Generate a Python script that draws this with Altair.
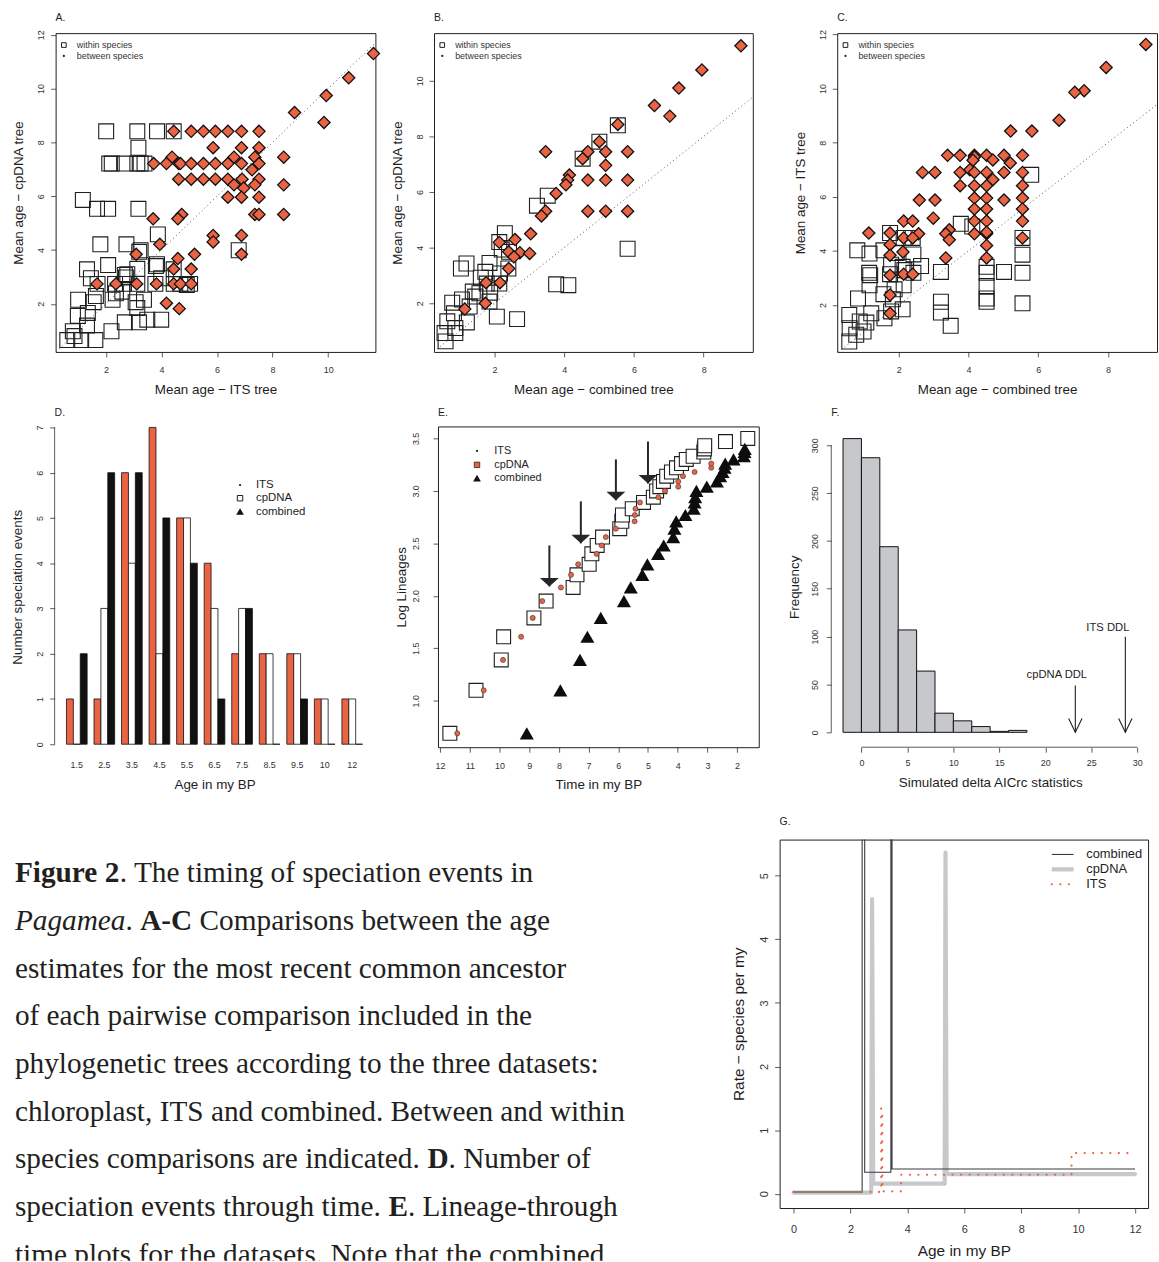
import altair as alt
import pandas as pd

SANS = "Liberation Sans"
SERIF = "Liberation Serif"
ORANGE = "#EA6444"
LIGHT = "#C6C8CB"
INK = "#1E1E1E"
SOFT = "#333333"

# ---------------- A: ITS tree age (x) vs cpDNA tree age (y) ----------------
a_within_x = [2.01, 3.13, 3.84, 4.44, 3.17, 2.12, 2.21, 2.68, 3.13, 3.25, 3.39,
              1.17, 1.68, 2.08, 3.17, 3.87, 1.80, 2.74, 3.25, 3.20, 6.78,
              2.08, 3.84, 3.80, 1.32, 3.13, 4.44, 1.46, 3.99, 2.68, 2.77, 2.72,
              1.70, 2.33, 2.65, 3.13, 3.78, 4.44, 4.68, 4.91, 5.03,
              2.36, 2.59, 1.00, 2.24, 3.37, 1.64, 1.56, 3.07, 3.13,
              1.35, 0.99, 3.49, 3.99, 2.68, 3.19, 1.32, 2.20, 0.81, 0.87,
              0.61, 1.11, 1.62]
a_within_y = [8.41, 8.41, 8.41, 8.41, 7.80, 7.21, 7.21, 7.21, 7.21, 7.21, 7.21,
              5.86, 5.53, 5.53, 5.53, 4.58, 4.21, 4.21, 3.99, 3.93, 3.99,
              3.44, 3.47, 3.40, 3.28, 3.30, 3.28, 2.95, 2.95, 3.07, 3.10, 2.98,
              2.74, 2.74, 2.74, 2.74, 2.74, 2.74, 2.74, 2.70, 2.74,
              2.39, 2.45, 2.15, 2.15, 2.15, 2.29, 2.06, 2.06, 1.84,
              1.66, 1.55, 1.41, 1.41, 1.31, 1.31, 1.19, 0.98, 0.98, 0.80,
              0.65, 0.65, 0.65]
a_between_x = [11.63, 10.74, 9.93, 8.79, 9.85,
               4.44, 5.07, 5.51, 5.94, 6.39, 6.88, 7.51,
               5.86, 6.88, 7.51, 4.38, 6.61, 7.36, 8.40,
               3.72, 4.18, 4.62, 4.68, 5.07, 5.51, 5.94, 6.39, 6.88, 7.51, 7.26,
               4.62, 5.07, 5.51, 5.94, 6.39, 6.90, 7.51,
               6.61, 7.36, 8.40, 6.96, 6.39, 6.88, 7.51,
               7.36, 7.51, 8.40, 4.73, 4.59, 3.70,
               5.86, 6.88, 5.86, 3.94, 6.88, 5.19, 3.09, 4.59, 4.44, 5.07,
               1.68, 2.36, 3.11, 3.82, 4.44, 4.68, 5.07, 4.18, 4.64]
a_between_y = [11.30, 10.40, 9.74, 9.11, 8.74,
               8.41, 8.41, 8.41, 8.41, 8.41, 8.41, 8.41,
               7.80, 7.80, 7.80, 7.45, 7.45, 7.45, 7.45,
               7.21, 7.21, 7.21, 7.21, 7.21, 7.21, 7.21, 7.21, 7.21, 7.21, 6.98,
               6.63, 6.63, 6.63, 6.63, 6.63, 6.63, 6.63,
               6.42, 6.42, 6.42, 6.30, 5.96, 5.96, 5.96,
               5.32, 5.32, 5.32, 5.32, 5.16, 5.16,
               4.54, 4.54, 4.30, 4.21, 3.84, 3.84, 3.84, 3.68, 3.29, 3.29,
               2.74, 2.74, 2.74, 2.74, 2.74, 2.74, 2.74, 2.02, 1.82]

# ---------------- B: combined tree age (x) vs cpDNA tree age (y) ----------------
b_within_x = [5.54, 5.01, 4.53, 3.53, 3.22, 2.30, 2.14, 2.21, 2.42, 5.82,
              1.20, 1.04, 1.86, 2.40, 1.61, 1.74, 2.16, 1.78, 2.14, 3.77, 4.12,
              1.38, 1.57, 1.88, 1.86, 0.79, 1.07, 1.29, 1.21, 0.88, 0.65, 0.84,
              2.07, 2.65, 0.60, 0.57, 0.88, 1.45]
b_within_y = [8.40, 7.81, 7.20, 5.87, 5.51, 4.52, 4.20, 3.93, 3.85, 3.96,
              3.43, 3.25, 3.45, 3.25, 2.92, 3.13, 3.07, 2.71, 2.71, 2.68, 2.65,
              2.42, 2.36, 2.38, 2.06, 2.02, 2.14, 1.88, 1.31, 1.11, 1.35, 1.64,
              1.52, 1.43, 0.63, 0.93, 0.93, 2.24]
b_between_x = [9.07, 7.95, 7.29, 6.59, 7.03, 5.54, 5.01, 3.47, 4.68, 5.19, 5.82,
               4.53, 5.19, 4.15, 4.10, 4.05, 4.68, 5.19, 5.82, 3.77, 3.47, 3.35,
               4.68, 5.19, 5.82, 3.04, 2.59, 2.14, 2.41, 2.73, 3.01, 2.56, 2.41,
               1.76, 2.16, 1.74, 1.15]
b_between_y = [11.26, 10.39, 9.74, 9.11, 8.73, 8.43, 7.81, 7.45, 7.45, 7.45, 7.45,
               7.20, 6.96, 6.61, 6.43, 6.26, 6.43, 6.43, 6.43, 5.95, 5.31, 5.14,
               5.31, 5.31, 5.31, 4.50, 4.29, 4.19, 3.85, 3.82, 3.79, 3.67, 3.25,
               2.74, 2.74, 2.00, 1.79]

# ---------------- C: combined tree age (x) vs ITS tree age (y) ----------------
c_within_x = [5.80, 3.78, 4.11, 5.55, 1.75, 2.14, 2.40,
              0.81, 1.16, 1.56, 1.94, 2.42, 1.78, 2.11, 2.64,
              1.15, 1.18, 1.75, 2.16, 2.42, 3.21, 4.52, 4.52, 5.02, 5.55, 5.55,
              1.16, 1.56, 1.88, 2.14, 4.52, 0.83, 1.83, 2.11, 1.78,
              3.21, 3.21, 4.52, 4.52, 5.55,
              0.58, 1.21, 1.59, 1.07, 0.88, 0.99, 0.59, 0.78, 0.58, 3.49]
c_within_y = [6.81, 5.00, 4.90, 4.48, 4.66, 4.48, 4.48,
              4.02, 3.90, 4.02, 3.92, 3.87, 3.49, 3.41, 3.44,
              3.19, 3.10, 3.14, 3.29, 3.19, 3.22, 3.41, 3.19, 3.22, 3.19, 3.86,
              2.73, 2.40, 2.58, 2.73, 2.70, 2.24, 2.21, 1.84, 1.76,
              2.12, 1.72, 2.24, 2.12, 2.06,
              1.63, 1.69, 1.51, 1.35, 1.39, 1.02, 1.14, 0.90, 0.65, 1.23]
c_between_x = [9.09, 7.95, 7.32, 7.05, 6.60, 5.21, 5.82,
               3.40, 3.76, 4.17, 4.52, 5.02, 5.55, 4.17, 4.13, 4.70, 5.20,
               2.68, 3.04, 3.76, 4.04, 4.17, 4.52, 5.02, 5.55, 4.70,
               3.76, 4.17, 4.52, 5.55,
               2.59, 3.04, 4.17, 4.52, 5.02, 5.55,
               4.17, 4.52, 5.55,
               2.99, 2.14, 2.40, 4.17, 4.52, 5.55,
               1.14, 1.75, 2.57, 3.45, 3.35, 3.45, 4.17, 4.52, 4.52,
               2.14, 2.40, 5.55, 1.75, 4.52, 1.75, 2.12, 3.35, 4.52,
               1.75, 2.14, 2.40, 1.75, 1.75]
c_between_y = [11.63, 10.78, 9.92, 9.86, 8.83, 8.43, 8.43,
               7.53, 7.53, 7.53, 7.53, 7.53, 7.53, 7.47, 7.35, 7.36, 7.25,
               6.90, 6.90, 6.90, 7.00, 6.90, 6.90, 6.90, 6.90, 6.63,
               6.41, 6.41, 6.41, 6.41,
               5.88, 5.88, 5.95, 5.95, 5.88, 5.95,
               5.55, 5.55, 5.55,
               5.21, 5.10, 5.10, 5.10, 5.10, 5.10,
               4.66, 4.66, 4.63, 4.78, 4.63, 4.41, 4.63, 4.63, 4.69,
               4.48, 4.48, 4.48, 4.23, 4.20, 3.84, 3.96, 3.74, 3.74,
               3.10, 3.14, 3.14, 2.37, 1.69]

# ---------------- D: speciation events per age class ----------------
d_labels = ["1.5", "2.5", "3.5", "4.5", "5.5", "6.5", "7.5", "8.5", "9.5", "10", "12"]
d_its = [1, 1, 6, 7, 5, 4, 2, 2, 2, 1, 1]
d_cpdna = [0, 3, 4, 2, 5, 3, 3, 2, 2, 1, 1]
d_combined = [2, 6, 6, 5, 4, 1, 3, 0, 1, 0, 0]

# ---------------- E: lineages through time ----------------
e_sq_time = [11.67, 10.79, 9.94, 9.86, 8.84, 8.43, 7.52, 7.39, 6.98, 6.89,
             6.71, 6.53, 5.95, 5.88, 5.86, 5.53, 5.15, 4.82, 4.71, 4.60,
             4.48, 4.37, 4.21, 4.04, 3.87, 3.71, 3.48, 3.12, 3.10, 3.09, 2.39, 1.64]
e_sq_log = [0.69, 1.10, 1.39, 1.61, 1.79, 1.95, 2.08, 2.20, 2.30, 2.40,
            2.48, 2.56, 2.64, 2.71, 2.77, 2.83, 2.89, 2.94, 3.00, 3.04,
            3.09, 3.14, 3.18, 3.22, 3.26, 3.30, 3.33, 3.37, 3.40, 3.43, 3.47, 3.50]
e_dot_time = [11.42, 10.53, 9.88, 9.27, 8.88, 8.56, 7.93, 7.59, 7.35, 6.73,
              6.56, 6.42, 6.08, 5.45, 5.44, 5.42, 5.27, 4.65, 4.43, 3.98,
              3.98, 3.82, 3.43, 2.87, 2.87]
e_dot_log = [0.69, 1.10, 1.39, 1.61, 1.79, 1.95, 2.08, 2.20, 2.30, 2.40,
             2.48, 2.56, 2.64, 2.71, 2.77, 2.83, 2.89, 2.94, 3.00, 3.04,
             3.09, 3.14, 3.18, 3.22, 3.26]
e_tri_time = [9.08, 7.95, 7.29, 7.04, 6.59, 5.81, 5.58, 5.19, 5.02, 4.66,
              4.47, 4.15, 4.11, 4.05, 3.74, 3.46, 3.43, 3.41, 3.37, 3.02,
              2.68, 2.57, 2.49, 2.42, 2.40, 2.12, 1.77, 1.75, 1.74]
e_tri_log = [0.69, 1.10, 1.39, 1.61, 1.79, 1.95, 2.08, 2.20, 2.30, 2.40,
             2.48, 2.56, 2.64, 2.71, 2.77, 2.83, 2.89, 2.94, 3.00, 3.04,
             3.09, 3.14, 3.18, 3.22, 3.26, 3.30, 3.33, 3.37, 3.40]
e_arrow_time = [8.32, 7.26, 6.08, 5.00]
e_arrow_top = [2.48, 2.90, 3.30, 3.47]
e_arrow_tip = [2.09, 2.50, 2.91, 3.07]

# ---------------- F: simulated delta AICrc ----------------
f_bin_lo = [-2, 0, 2, 4, 6, 8, 10, 12, 14, 16]
f_bin_hi = [0, 2, 4, 6, 8, 10, 12, 14, 16, 18]
f_freq = [307, 287, 194, 107, 64, 20, 12, 6, 1, 2]
f_obs_name = ["cpDNA DDL", "ITS DDL"]
f_obs_value = [23.26, 28.7]
f_obs_top = [49, 100]
f_label_x = [21.25, 26.8]
f_label_y = [59.5, 109]

# ---------------- G: speciation rate through time ----------------
g_comb_age = [0, 2.41, 2.41, 2.50, 2.50, 3.42, 3.42, 3.46, 3.46, 12]
g_comb_rate = [0.03, 0.03, 7.0, 7.0, 0.34, 0.34, 7.0, 7.0, 0.39, 0.39]
g_cp_age = [0, 2.73, 2.76, 2.80, 5.31, 5.34, 5.38, 12]
g_cp_rate = [0.02, 0.02, 4.63, 0.16, 0.16, 5.36, 0.31, 0.31]
g_its_age = [0, 3.08, 3.08, 3.12, 3.12, 3.78, 3.78, 9.77, 9.77, 12]
g_its_rate = [0.03, 0.03, 1.34, 1.34, 0.04, 0.04, 0.30, 0.30, 0.64, 0.64]

# ---------------- caption ----------------
caption_lines = [
    [("Figure 2", "bold"), (". The timing of speciation events in", "normal")],
    [("Pagamea", "italic"), (". ", "normal"), ("A-C", "bold"), (" Comparisons between the age", "normal")],
    [("estimates for the most recent common ancestor", "normal")],
    [("of each pairwise comparison included in the", "normal")],
    [("phylogenetic trees according to the three datasets:", "normal")],
    [("chloroplast, ITS and combined. Between and within", "normal")],
    [("species comparisons are indicated. ", "normal"), ("D", "bold"), (". Number of", "normal")],
    [("speciation events through time. ", "normal"), ("E", "bold"), (". Lineage-through", "normal")],
    [("time plots for the datasets. Note that the combined", "normal")],
]

# Times-compatible advance widths (1/1000 em) used to chain mixed-style runs
SERIF_WIDTHS = {
    "normal": dict(zip("abcdefghijklmnopqrstuvwxyz",
                       [444, 500, 444, 500, 444, 333, 500, 500, 278, 278, 500, 278, 778,
                        500, 500, 500, 500, 333, 389, 278, 500, 500, 722, 500, 500, 444]),
                   **{" ": 250, ".": 250, ",": 250, ":": 278, "-": 333}),
    "bold": {"F": 611, "i": 278, "g": 500, "u": 556, "r": 444, "e": 444, " ": 250,
             "2": 500, "A": 722, "-": 333, "C": 722, "D": 722, "E": 667},
    "italic": {"P": 611, "a": 500, "g": 500, "m": 722, "e": 444},
}
CAP_SIZE = 29.5


def run_width(s, style):
    return sum(SERIF_WIDTHS[style].get(ch, 500) for ch in s) * CAP_SIZE / 1000.0


# ---------------- helpers ----------------
def frame():
    return alt.ViewBackground(stroke=INK, strokeWidth=1)


def xaxis(values, title, pad=9, tpad=8, fmt=None, lsize=9, tsize=13.5):
    kw = dict(values=values, title=title, grid=False, domain=False, tickSize=5, tickColor=SOFT,
              tickWidth=0.8, labelFont=SANS, labelFontSize=lsize, labelColor=SOFT,
              labelPadding=pad, labelAngle=0, labelOverlap=False, labelFlush=False,
              titleFont=SANS, titleFontSize=tsize, titleFontWeight="normal", titleColor=INK,
              titlePadding=tpad)
    if fmt:
        kw["format"] = fmt
    return alt.Axis(**kw)


def yaxis(values, title, pad=5, tpad=11, fmt=None, lsize=9, tsize=13.5):
    kw = dict(values=values, title=title, grid=False, domain=False, tickSize=5, tickColor=SOFT,
              tickWidth=0.8, labelFont=SANS, labelFontSize=lsize, labelColor=SOFT,
              labelPadding=pad, labelAngle=270, labelAlign="center", labelBaseline="bottom",
              labelOverlap=False, labelFlush=False,
              titleFont=SANS, titleFontSize=tsize, titleFontWeight="normal", titleColor=INK,
              titlePadding=tpad)
    if fmt:
        kw["format"] = fmt
    return alt.Axis(**kw)


ONE = pd.DataFrame({"k": [0]})


def sym(px, py, **mark):
    return alt.Chart(ONE).mark_point(opacity=1, **mark).encode(x=alt.value(px), y=alt.value(py))


def label(px, py, txt, size, color=INK):
    return alt.Chart(ONE).mark_text(text=txt, align="left", baseline="middle", font=SANS,
                                    fontSize=size, color=color).encode(x=alt.value(px), y=alt.value(py))


def letter(txt, py=-15):
    return label(0, py, txt, 10.5)


def extent(w, h, left, right, top, bottom):
    # invisible, strokeless diagonal that fixes the panel's layout box around its plot area
    return alt.Chart(ONE).mark_rule(opacity=0, strokeWidth=0).encode(
        x=alt.value(-left), x2=alt.value(w + right), y=alt.value(-top), y2=alt.value(h + bottom))


def spacer():
    return alt.Chart(ONE).mark_rule(opacity=0, strokeWidth=0).encode(
        x=alt.value(0), x2=alt.value(1), y=alt.value(0)).properties(width=1, height=1)


def scatter_panel(tag, wx, wy, bx, by, xdom, ydom, xt, yt, xtitle, ytitle, w, h, box):
    xs = alt.Scale(domain=xdom, nice=False, zero=False)
    ys = alt.Scale(domain=ydom, nice=False, zero=False)
    xa = xaxis(xt, xtitle)
    ya = yaxis(yt, ytitle)
    enc = dict(x=alt.X("x:Q", scale=xs, axis=xa), y=alt.Y("y:Q", scale=ys, axis=ya))
    # 1:1 reference line across the visible square of the plot
    lo = max(xdom[0], ydom[0])
    hi = min(xdom[1], ydom[1])
    diag = alt.Chart(pd.DataFrame({"x": [lo, hi], "y": [lo, hi]})).mark_line(
        clip=True, color="#555555", strokeWidth=1, strokeDash=[1, 3]).encode(**enc)
    within = alt.Chart(pd.DataFrame({"x": wx, "y": wy})).mark_point(
        shape="square", size=225, filled=False, stroke=INK, strokeWidth=1.1, opacity=1).encode(**enc)
    between = alt.Chart(pd.DataFrame({"x": bx, "y": by})).mark_point(
        shape="diamond", size=150, filled=True, fill=ORANGE, stroke="#111111",
        strokeWidth=1.3, opacity=1).encode(**enc)
    leg = [
        sym(8.3, 12, shape="square", size=22, filled=False, stroke=INK, strokeWidth=1),
        sym(8.3, 23, shape="circle", size=5, filled=True, fill=INK, stroke=None),
        label(21.3, 12, "within species", 9, SOFT),
        label(21.3, 23, "between species", 9, SOFT),
    ]
    return alt.layer(diag, within, between, *leg, letter(tag), extent(w, h, *box)).properties(
        width=w, height=h, view=frame())


# ---------------- A, B, C ----------------
panel_a = scatter_panel("A.", a_within_x, a_within_y, a_between_x, a_between_y,
                        [0.19, 11.70], [0.21, 12.06], [2, 4, 6, 8, 10], [2, 4, 6, 8, 10, 12],
                        "Mean age \u2212 ITS tree", "Mean age \u2212 cpDNA tree", 322, 321,
                        (54, 5, 28, 48))
panel_b = scatter_panel("B.", b_within_x, b_within_y, b_between_x, b_between_y,
                        [0.268, 9.41], [0.25, 11.714], [2, 4, 6, 8], [2, 4, 6, 8, 10],
                        "Mean age \u2212 combined tree", "Mean age \u2212 cpDNA tree", 321, 321,
                        (50, 33, 28, 48))
panel_c = scatter_panel("C.", c_within_x, c_within_y, c_between_x, c_between_y,
                        [0.234, 9.41], [0.264, 12.048], [2, 4, 6, 8], [2, 4, 6, 8, 10, 12],
                        "Mean age \u2212 combined tree", "Mean age \u2212 ITS tree", 322, 321,
                        (50, 1, 28, 48))

# ---------------- D ----------------
d_rows = []
for i, lab in enumerate(d_labels):
    for j, (name, vals) in enumerate([("ITS", d_its), ("cpDNA", d_cpdna), ("combined", d_combined)]):
        d_rows.append({"label": lab, "series": name, "n": vals[i],
                       "x0": 1 + 4 * i + j, "x1": 2 + 4 * i + j})
d_df = pd.DataFrame(d_rows)
d_centers = pd.DataFrame({"label": d_labels, "c": [2.5 + 4 * i for i in range(len(d_labels))]})
dxs = alt.Scale(domain=[-0.72, 45.72], nice=False, zero=False)
dys = alt.Scale(domain=[-0.066, 7.022], nice=False, zero=False)
dxa = alt.Axis(labels=False, ticks=False, domain=False, grid=False, title="Age in my BP",
               titleFont=SANS, titleFontSize=13.5, titleFontWeight="normal", titleColor=INK,
               titlePadding=31)
dya = yaxis(list(range(8)), "Number speciation events")
d_bars = alt.Chart(d_df).mark_rect(stroke="#111111", strokeWidth=0.8).encode(
    x=alt.X("x0:Q", scale=dxs, axis=dxa), x2="x1:Q",
    y=alt.Y("n:Q", scale=dys, axis=dya), y2=alt.datum(0),
    color=alt.Color("series:N", scale=alt.Scale(domain=["ITS", "cpDNA", "combined"],
                                                range=[ORANGE, "#FFFFFF", "#111111"]), legend=None))
d_yline = alt.Chart(pd.DataFrame({"lo": [0], "hi": [7]})).mark_rule(color=SOFT, strokeWidth=0.8).encode(
    x=alt.value(0), y=alt.Y("lo:Q", scale=dys, axis=dya), y2="hi:Q")
d_names = alt.Chart(d_centers).mark_text(font=SANS, fontSize=9, color=SOFT, baseline="middle").encode(
    x=alt.X("c:Q", scale=dxs, axis=dxa), y=alt.value(341), text="label:N")
d_leg = [
    sym(186.7, 59, shape="circle", size=5, filled=True, fill=INK, stroke=None),
    sym(186.7, 72.3, shape="square", size=30, filled=False, stroke=INK, strokeWidth=1),
    sym(186.7, 85.7, shape="triangle-up", size=60, filled=True, fill="#111111", stroke=None),
    label(202.7, 59, "ITS", 11.5), label(202.7, 72.3, "cpDNA", 11.5), label(202.7, 85.7, "combined", 11.5),
]
panel_d = alt.layer(d_bars, d_yline, d_names, *d_leg, letter("D.", -14),
                    extent(322, 323, 54, 13, 25, 66)).properties(width=322, height=323)

# ---------------- E ----------------
exs = alt.Scale(domain=[12.07, 1.27], nice=False, zero=False)
eys = alt.Scale(domain=[0.558, 3.614], nice=False, zero=False)
exa = xaxis(list(range(12, 1, -1)), "Time in my BP", pad=9)
eya = yaxis([1.0, 1.5, 2.0, 2.5, 3.0, 3.5], "Log Lineages", pad=13, tpad=3, fmt=".1f")
E = dict(x=alt.X("t:Q", scale=exs, axis=exa), y=alt.Y("v:Q", scale=eys, axis=eya))
e_sq = alt.Chart(pd.DataFrame({"t": e_sq_time, "v": e_sq_log})).mark_point(
    shape="square", size=196, filled=True, fill="#FFFFFF", stroke=INK, strokeWidth=1.1, opacity=1).encode(**E)
e_dot = alt.Chart(pd.DataFrame({"t": e_dot_time, "v": e_dot_log})).mark_point(
    shape="circle", size=26, filled=True, fill=ORANGE, stroke="#333333", strokeWidth=0.6, opacity=1).encode(**E)
e_tri = alt.Chart(pd.DataFrame({"t": e_tri_time, "v": e_tri_log})).mark_point(
    shape="triangle-up", size=200, filled=True, fill="#0D0D0D", stroke=None, opacity=1).encode(**E)
e_arrows_df = pd.DataFrame({"t": e_arrow_time, "v": e_arrow_top, "tip": e_arrow_tip})
e_shaft = alt.Chart(e_arrows_df).mark_rule(color="#262626", strokeWidth=2).encode(
    x=alt.X("t:Q", scale=exs, axis=exa), y=alt.Y("v:Q", scale=eys, axis=eya), y2="tip:Q")
e_head = alt.Chart(e_arrows_df).mark_point(
    shape="M-1,-0.9L1,-0.9L0,0Z", size=361, filled=True, fill="#262626", stroke=None, opacity=1).encode(
    x=alt.X("t:Q", scale=exs, axis=exa), y=alt.Y("tip:Q", scale=eys, axis=eya))
e_leg = [
    sym(39.3, 24.7, shape="circle", size=5, filled=True, fill=INK, stroke=None),
    sym(39.3, 38.7, shape="square", size=30, filled=True, fill=ORANGE, stroke=INK, strokeWidth=0.8),
    sym(39.3, 52, shape="triangle-up", size=60, filled=True, fill="#111111", stroke=None),
    label(56.7, 24.7, "ITS", 11), label(56.7, 38.7, "cpDNA", 11), label(56.7, 52, "combined", 11),
]
panel_e = alt.layer(e_sq, e_dot, e_tri, e_shaft, e_head, *e_leg, letter("E.", -14),
                    extent(323, 323, 50, 22, 25, 66)).properties(
    width=323, height=323, view=frame())

# ---------------- F ----------------
fxs = alt.Scale(domain=[-3.28, 31.28], nice=False, zero=False)
fys = alt.Scale(domain=[-15.57, 319.72], nice=False, zero=False)
fxa = xaxis(list(range(0, 31, 5)), "Simulated delta AICrc statistics", pad=6.5, tpad=8.5)
fya = yaxis(list(range(0, 301, 50)), "Frequency", pad=7, tpad=9)
f_df = pd.DataFrame({"lo": f_bin_lo, "hi": f_bin_hi, "n": f_freq})
f_bars = alt.Chart(f_df).mark_rect(fill=LIGHT, stroke="#111111", strokeWidth=1).encode(
    x=alt.X("lo:Q", scale=fxs, axis=fxa), x2="hi:Q",
    y=alt.Y("n:Q", scale=fys, axis=fya), y2=alt.datum(0))
f_xline = alt.Chart(pd.DataFrame({"lo": [0], "hi": [30]})).mark_rule(color=SOFT, strokeWidth=0.8).encode(
    x=alt.X("lo:Q", scale=fxs, axis=fxa), x2="hi:Q", y=alt.value(323))
f_yline = alt.Chart(pd.DataFrame({"lo": [0], "hi": [300]})).mark_rule(color=SOFT, strokeWidth=0.8).encode(
    x=alt.value(0), y=alt.Y("lo:Q", scale=fys, axis=fya), y2="hi:Q")
f_obs = pd.DataFrame({"name": f_obs_name, "x": f_obs_value, "top": f_obs_top,
                      "lx": f_label_x, "ly": f_label_y, "zero": [0, 0]})
f_shaft = alt.Chart(f_obs).mark_rule(color=INK, strokeWidth=1.1).encode(
    x=alt.X("x:Q", scale=fxs, axis=fxa), y=alt.Y("top:Q", scale=fys, axis=fya), y2="zero:Q")
f_head = alt.Chart(f_obs).mark_point(
    shape="M-0.48,-1L0,0L0.48,-1", size=784, filled=False, stroke=INK, strokeWidth=1.1, opacity=1).encode(
    x=alt.X("x:Q", scale=fxs, axis=fxa), y=alt.Y("zero:Q", scale=fys, axis=fya))
f_text = alt.Chart(f_obs).mark_text(font=SANS, fontSize=11.3, color=INK, baseline="middle").encode(
    x=alt.X("lx:Q", scale=fxs, axis=fxa), y=alt.Y("ly:Q", scale=fys, axis=fya), text="name:N")
panel_f = alt.layer(f_bars, f_xline, f_yline, f_shaft, f_head, f_text, letter("F.", -14),
                    extent(320, 323, 50, 2, 25, 66)).properties(width=320, height=323)

# ---------------- G ----------------
gxs = alt.Scale(domain=[-0.49, 12.46], nice=False, zero=False)
gys = alt.Scale(domain=[-0.223, 5.566], nice=False, zero=False)
gxa = xaxis(list(range(0, 13, 2)), "Age in my BP", pad=11, tpad=9, lsize=11, tsize=15.5)
gya = yaxis(list(range(0, 6)), "Rate \u2212 species per my", pad=5.5, tpad=12, lsize=11, tsize=15.5)


def rate_line(ages, rates, **mark):
    df = pd.DataFrame({"age": ages, "rate": rates, "i": list(range(len(ages)))})
    return alt.Chart(df).mark_line(clip=True, **mark).encode(
        x=alt.X("age:Q", scale=gxs, axis=gxa), y=alt.Y("rate:Q", scale=gys, axis=gya),
        order="i:Q")


g_cp = rate_line(g_cp_age, g_cp_rate, color=LIGHT, strokeWidth=4.2, strokeJoin="round", strokeCap="round")
g_comb = rate_line(g_comb_age, g_comb_rate, color="#3A3A3A", strokeWidth=1.1)
g_its = rate_line(g_its_age, g_its_rate, color=ORANGE, strokeWidth=2.2, strokeDash=[0.1, 8.5],
                  strokeCap="round")


def leg_rule(py, **mark):
    return alt.Chart(ONE).mark_rule(**mark).encode(x=alt.value(274), x2=alt.value(296), y=alt.value(py))


g_leg = [
    leg_rule(15, color="#3A3A3A", strokeWidth=1.1),
    leg_rule(30, color=LIGHT, strokeWidth=4.2),
    leg_rule(45, color=ORANGE, strokeWidth=2.2, strokeDash=[0.1, 8.5], strokeCap="round"),
    label(308.7, 15, "combined", 13), label(308.7, 30, "cpDNA", 13), label(308.7, 45, "ITS", 13),
]
panel_g = alt.layer(g_cp, g_comb, g_its, *g_leg, letter("G.", -18),
                    extent(371, 371, 144, 2, 25, 53)).properties(
    width=371, height=371, view=frame())

# ---------------- caption ----------------
seg_rows = []
for k, runs in enumerate(caption_lines):
    pos = 15.0
    for txt, style in runs:
        lead = len(txt) - len(txt.lstrip(" "))
        pos += lead * SERIF_WIDTHS["normal"][" "] * CAP_SIZE / 1000.0
        core = txt.strip(" ")
        seg_rows.append({"txt": core, "px": pos, "py": 43 + 48 * k, "style": style})
        pos += run_width(core, style)
        trail = len(txt) - len(txt.rstrip(" "))
        pos += trail * SERIF_WIDTHS["normal"][" "] * CAP_SIZE / 1000.0
cap_df = pd.DataFrame(seg_rows)


def cap_layer(style, weight, slant):
    return alt.Chart(cap_df).transform_filter(alt.datum.style == style).mark_text(
        align="left", baseline="alphabetic", font=SERIF, fontSize=CAP_SIZE, fontWeight=weight,
        fontStyle=slant, color="#231F20", clip=True).encode(
        x=alt.X("px:Q", scale=None), y=alt.Y("py:Q", scale=None), text="txt:N")


caption = alt.layer(cap_layer("normal", "normal", "normal"),
                    cap_layer("bold", "bold", "normal"),
                    cap_layer("italic", "normal", "italic")).properties(width=640, height=424)

# ---------------- layout ----------------
row1 = alt.hconcat(spacer(), panel_a, panel_b, panel_c, spacing=0)
row2 = alt.hconcat(spacer(), panel_d, panel_e, panel_f, spacing=0)
row3 = alt.hconcat(caption, panel_g, spacing=0)

chart = alt.vconcat(row1, row2, row3, spacing=0, padding=0).configure_view(stroke=None)

chart.save("out.html", embed_options={"renderer": "svg", "actions": False})
